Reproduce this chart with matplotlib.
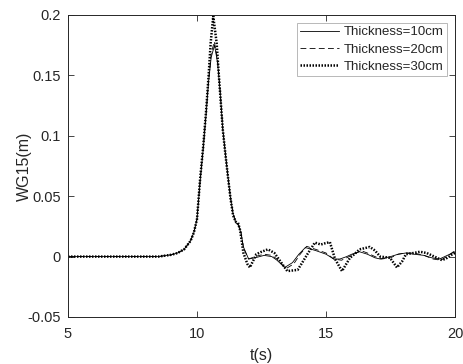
import matplotlib
matplotlib.use("Agg")
import matplotlib.pyplot as plt
from matplotlib.ticker import FuncFormatter

plt.rcParams['font.family'] = ['Liberation Sans', 'DejaVu Sans']

# ---- data ----
t30 = [5, 8.5, 9.0, 9.25, 9.5, 9.75, 9.88, 10.0, 10.12, 10.24, 10.35, 10.45, 10.53, 10.63, 10.76,
       10.88, 11.0, 11.1, 11.2, 11.3, 11.4, 11.5, 11.59, 11.67, 11.8, 11.95, 12.05, 12.3, 12.5,
       12.75, 13.0, 13.2, 13.5, 13.9, 14.05, 14.27, 14.57, 14.8, 14.96, 15.15, 15.35, 15.62,
       15.93, 16.1, 16.3, 16.7, 16.9, 17.1, 17.3, 17.48, 17.75, 17.95, 18.1, 18.4, 18.64, 18.9,
       19.1, 19.3, 19.5, 19.7, 19.9, 20.0]
y30 = [0, 0, 0.0015, 0.003, 0.006, 0.013, 0.02, 0.031, 0.064, 0.091, 0.12, 0.15, 0.177, 0.199,
       0.177, 0.14, 0.105, 0.085, 0.066, 0.048, 0.034, 0.029, 0.028, 0.022, 0.003, -0.006, -0.009,
       0.002, 0.004, 0.006, 0.003, -0.003, -0.012, -0.011, -0.006, 0.0017, 0.0116, 0.010, 0.011,
       0.012, -0.002, -0.012, -0.001, 0.002, 0.006, 0.008, 0.005, 0.0, -0.0005, -0.001, -0.009,
       -0.004, 0.002, 0.003, 0.004, 0.003, 0.001, -0.001, -0.003, -0.001, 0.002, 0.003]

t10 = [5, 8.5, 9.0, 9.25, 9.5, 9.75, 9.88, 10.0, 10.12, 10.24, 10.35, 10.45, 10.55, 10.68, 10.8,
       10.9, 11.0, 11.1, 11.2, 11.3, 11.4, 11.5, 11.6, 11.7, 11.8, 12.0, 12.25, 12.6, 12.9, 13.1,
       13.4, 13.7, 13.95, 14.2, 14.6, 15.0, 15.3, 15.54, 15.8, 16.0, 16.3, 16.6, 16.9, 17.1,
       17.5, 17.8, 18.1, 18.4, 18.8, 19.1, 19.4, 19.7, 20.0]
y10 = [0, 0, 0.0015, 0.003, 0.006, 0.013, 0.02, 0.031, 0.062, 0.089, 0.117, 0.145, 0.165, 0.175,
       0.16, 0.135, 0.105, 0.085, 0.066, 0.048, 0.035, 0.028, 0.026, 0.02, 0.008, -0.002, -0.001,
       0.001, 0.0, -0.003, -0.009, -0.005, 0.002, 0.0075, 0.005, 0.002, -0.002, -0.002, 0.0,
       0.002, 0.004, 0.002, -0.001, -0.002, 0.0, 0.002, 0.003, 0.002, 0.001, -0.001, -0.002,
       0.001, 0.004]

t20 = [5, 8.5, 9.0, 9.25, 9.5, 9.75, 9.88, 10.0, 10.12, 10.24, 10.35, 10.45, 10.55, 10.67, 10.8,
       10.9, 11.0, 11.1, 11.2, 11.3, 11.4, 11.5, 11.6, 11.7, 11.8, 12.0, 12.25, 12.6, 12.9, 13.1,
       13.45, 13.75, 14.0, 14.25, 14.6, 15.0, 15.3, 15.6, 15.8, 16.0, 16.35, 16.6, 16.9, 17.15,
       17.5, 17.8, 18.1, 18.4, 18.8, 19.15, 19.45, 19.75, 20.0]
y20 = [0, 0, 0.0015, 0.003, 0.006, 0.013, 0.02, 0.031, 0.063, 0.090, 0.118, 0.147, 0.168, 0.178,
       0.162, 0.137, 0.106, 0.086, 0.067, 0.049, 0.036, 0.029, 0.027, 0.021, 0.007, -0.002,
       0.0, 0.002, 0.001, -0.002, -0.010, -0.006, 0.002, 0.0085, 0.006, 0.003, -0.002, -0.003,
       -0.001, 0.001, 0.005, 0.003, 0.0, -0.002, -0.001, 0.002, 0.003, 0.003, 0.001, -0.002,
       -0.003, 0.001, 0.005]

labels = ['Thickness=10cm', 'Thickness=20cm', 'Thickness=30cm']
xticks = [5, 10, 15, 20]
yticks = [-0.05, 0, 0.05, 0.1, 0.15, 0.2]

# ---- figure ----
fig = plt.figure(figsize=(4.64, 3.64), dpi=100)
ax = fig.add_axes([68/464, 1-317/364, (455-68)/464, (317-15)/364])

dark = (0.15, 0.15, 0.15)
ax.plot(t10, y10, '-', color='black', lw=0.6, label=labels[0])
ax.plot(t20, y20, '--', color='black', lw=0.6, dashes=(7, 4), label=labels[1])
ax.plot(t30, y30, ':', color='black', lw=1.8, dashes=(0.6, 0.6), label=labels[2])

ax.set_xlim(5, 20)
ax.set_ylim(-0.05, 0.2)
ax.set_xticks(xticks)
ax.set_yticks(yticks)
fmt = FuncFormatter(lambda v, p: '%g' % round(v, 4))
ax.xaxis.set_major_formatter(fmt)
ax.yaxis.set_major_formatter(fmt)
ax.tick_params(direction='in', top=True, right=True, length=4, width=0.6,
               colors=dark, labelsize=10.5, labelcolor=dark)
ax.tick_params(axis='x', pad=7)
ax.tick_params(axis='y', pad=5)
for s in ax.spines.values():
    s.set_color(dark)
    s.set_linewidth(0.7)

ax.set_xlabel('t(s)', fontsize=11.5, color=dark, labelpad=5)
ax.set_ylabel('WG15(m)', fontsize=11.5, color=dark, labelpad=-3)

leg = ax.legend(loc='upper right', fontsize=9.5, frameon=True, fancybox=False,
                handlelength=2.9, handletextpad=0.4, borderpad=0.25, labelspacing=0.38,
                borderaxespad=0.6)
leg.get_frame().set_edgecolor((0.65, 0.65, 0.65))
leg.get_frame().set_linewidth(0.7)
for txt in leg.get_texts():
    txt.set_color(dark)

fig.savefig('out.png', dpi=100)
